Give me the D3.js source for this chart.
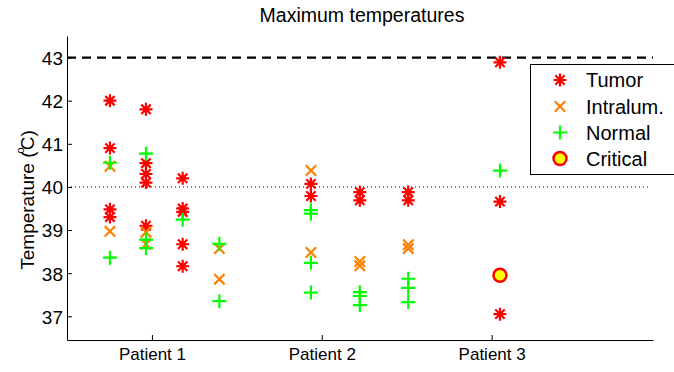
<!DOCTYPE html>
<html>
<head>
<meta charset="utf-8">
<script src="https://cdn.jsdelivr.net/npm/d3@7"></script>
<style>
  body { margin: 0; background: #fff; }
  text { font-family: "Liberation Sans", Arial, sans-serif; fill: #000; }
</style>
</head>
<body>
<script>
var w = 674;
var h = 372;

var margin = { top: 36, bottom: 32, left: 67, right: 21 };

// categories on the x axis
var patients = ["Patient 1", "Patient 2", "Patient 3"];
var patientPos = [1, 2, 3];
var yTicks = [37, 38, 39, 40, 41, 42, 43];

// x position of every sensor column
var sensorX = [0.753, 0.965, 1.181, 1.397, 1.936, 2.224, 2.509, 3.049];

// series: column index + max temperature
var tumorCol = [0, 0, 0, 0, 1, 1, 1, 1, 1, 2, 2, 2, 2, 2, 4, 4, 5, 5, 6, 6, 7, 7, 7];
var tumorTemp = [42.0, 40.9, 39.48, 39.3, 41.8, 40.55, 40.3, 40.1, 39.1,
  40.2, 39.5, 39.42, 38.67, 38.16, 40.07, 39.79, 39.88, 39.69, 39.88, 39.69,
  42.89, 39.66, 37.05];

var intraCol = [0, 0, 1, 1, 3, 3, 4, 4, 5, 5, 6, 6];
var intraTemp = [40.48, 38.97, 38.95, 38.67, 38.57, 37.86, 40.38, 38.48, 38.27, 38.17, 38.66, 38.57];

var normalCol = [0, 0, 1, 1, 1, 2, 3, 3, 4, 4, 4, 4, 5, 5, 5, 6, 6, 6, 7];
var normalTemp = [40.56, 38.36, 40.77, 38.78, 38.58, 39.24, 38.68, 37.35,
  39.46, 39.38, 38.24, 37.55, 37.56, 37.47, 37.26, 37.87, 37.66, 37.33, 40.38];

var criticalCol = [7];
var criticalTemp = [37.95];

var limitHigh = 43;
var limitMid = 40;

var red = "#ff0000", orange = "#ff8000", green = "#00ff00";

var x = d3.scaleLinear()
  .domain([0.5, 3.95])
  .range([margin.left, w - margin.right]);

var y = d3.scaleLinear()
  .domain([36.45, 43.5])
  .range([h - margin.bottom, margin.top]);

var svg = d3.select("body").append("svg")
  .attr("width", w)
  .attr("height", h);

// marker shapes
function starPath(r) {
  var a = r * 0.72;
  return "M" + (-r) + ",0L" + r + ",0M0," + (-r) + "L0," + r +
    "M" + (-a) + "," + (-a) + "L" + a + "," + a + "M" + (-a) + "," + a + "L" + a + "," + (-a);
}
function plusPath(r) {
  return "M" + (-r) + ",0L" + r + ",0M0," + (-r) + "L0," + r;
}
function crossPath(r) {
  return "M" + (-r) + "," + (-r) + "L" + r + "," + r + "M" + (-r) + "," + r + "L" + r + "," + (-r);
}

// reference lines
svg.append("line")
  .attr("x1", x(0.5)).attr("x2", x(3.95))
  .attr("y1", y(limitHigh)).attr("y2", y(limitHigh))
  .attr("stroke", "#000").attr("stroke-width", 2.2)
  .attr("stroke-dasharray", "9,6");

svg.append("line")
  .attr("x1", x(0.5)).attr("x2", x(3.92))
  .attr("y1", y(limitMid)).attr("y2", y(limitMid))
  .attr("stroke", "#000").attr("stroke-width", 1)
  .attr("stroke-dasharray", "1,3");

// axes
var yAxis = d3.axisLeft(y).tickValues(yTicks).tickFormat(d3.format("d"))
  .tickSizeInner(-5).tickSizeOuter(0).tickPadding(4);
var gy = svg.append("g")
  .attr("transform", "translate(" + margin.left + ",0)")
  .call(yAxis);

var xAxis = d3.axisBottom(x).tickValues(patientPos)
  .tickFormat(function (d, i) { return patients[i]; })
  .tickSizeInner(-5).tickSizeOuter(0).tickPadding(8);
var gx = svg.append("g")
  .attr("transform", "translate(0," + (h - margin.bottom) + ")")
  .call(xAxis);

gx.selectAll("text").style("font-size", "17px");
gy.selectAll("text").style("font-size", "19px").attr("dy", "0.36em");
[gx, gy].forEach(function (g) {
  g.selectAll("text").attr("fill", "#000");
  g.selectAll("line, path").attr("stroke", "#000");
});

// scatter series
function drawSeries(cols, temps, pathFn, color) {
  svg.append("g").selectAll("path")
    .data(temps)
    .enter()
    .append("path")
    .attr("transform", function (d, i) {
      return "translate(" + x(sensorX[cols[i]]) + "," + y(d) + ")";
    })
    .attr("d", pathFn)
    .attr("fill", "none")
    .attr("stroke", color)
    .attr("stroke-width", 2.2);
}

drawSeries(tumorCol, tumorTemp, starPath(6.5), red);
drawSeries(intraCol, intraTemp, crossPath(5.2), orange);
drawSeries(normalCol, normalTemp, plusPath(7), green);

svg.append("g").selectAll("circle")
  .data(criticalTemp)
  .enter()
  .append("circle")
  .attr("cx", function (d, i) { return x(sensorX[criticalCol[i]]); })
  .attr("cy", function (d) { return y(d); })
  .attr("r", 6.5)
  .attr("fill", "#ffff00")
  .attr("stroke", red)
  .attr("stroke-width", 2.5);

// title and y label
svg.append("text")
  .attr("x", (x(0.5) + x(3.95)) / 2 + 2)
  .attr("y", 22)
  .attr("text-anchor", "middle")
  .style("font-size", "19.5px")
  .text("Maximum temperatures");

var yl = svg.append("text")
  .attr("transform", "translate(34,200) rotate(-90)")
  .attr("text-anchor", "middle")
  .style("font-size", "19px");
yl.append("tspan").text("Temperature (");
yl.append("tspan").attr("dy", -10).attr("dx", -2).style("font-size", "11px").text("o");
yl.append("tspan").attr("dy", 10).attr("dx", -3).text("C)");

// legend
var legendItems = ["Tumor", "Intralum.", "Normal", "Critical"];
var lg = svg.append("g");
lg.append("rect")
  .attr("x", 530.5).attr("y", 64.5)
  .attr("width", 160).attr("height", 110)
  .attr("fill", "#fff").attr("stroke", "#000").attr("stroke-width", 1);

var legendY = [80, 106.5, 132.5, 158.5];
var legendShapes = [starPath(6.5), crossPath(5.2), plusPath(7)];
var legendColors = [red, orange, green];

legendItems.forEach(function (name, i) {
  if (i < 3) {
    lg.append("path")
      .attr("transform", "translate(560," + legendY[i] + ")")
      .attr("d", legendShapes[i])
      .attr("fill", "none")
      .attr("stroke", legendColors[i])
      .attr("stroke-width", 2.2);
  } else {
    lg.append("circle")
      .attr("cx", 560).attr("cy", legendY[i]).attr("r", 6.5)
      .attr("fill", "#ffff00").attr("stroke", red).attr("stroke-width", 2.5);
  }
  lg.append("text")
    .attr("x", 586)
    .attr("y", legendY[i] + 7)
    .style("font-size", "20px")
    .text(name);
});
</script>
</body>
</html>
